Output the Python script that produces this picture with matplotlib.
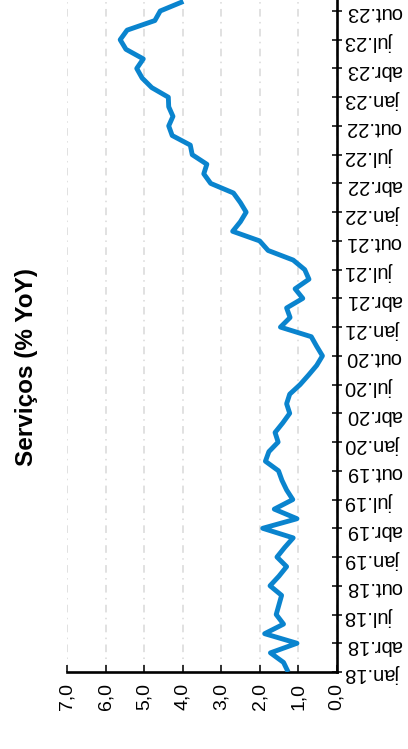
import matplotlib
matplotlib.use("Agg")
import matplotlib.pyplot as plt
import numpy as np

# Serviços (% YoY), mensal de jan.18 a nov.23
servicos = [1.26, 1.38, 1.72, 1.03, 1.87, 1.38, 1.57, 1.50, 1.43, 1.73,
            1.50, 1.30, 1.55, 1.35, 1.13, 1.92, 1.03, 1.62, 1.14, 1.30,
            1.42, 1.51, 1.85, 1.76, 1.52, 1.60, 1.40, 1.22, 1.30, 1.22,
            0.95, 0.73, 0.52, 0.37, 0.52, 0.66, 1.46, 1.21, 1.30, 0.88,
            1.08, 0.72, 0.83, 1.13, 1.78, 2.00, 2.70, 2.50, 2.35, 2.50,
            2.68, 3.27, 3.45, 3.37, 3.75, 3.80, 4.27, 4.36, 4.25, 4.36,
            4.37, 4.80, 5.05, 5.19, 5.02, 5.47, 5.62, 5.44, 4.72, 4.58,
            3.98]
meses = ['jan', 'abr', 'jul', 'out']
anos = ['18', '19', '20', '21', '22', '23']
valores_ticks = [0, 1, 2, 3, 4, 5, 6, 7]

rotulos = [m + '.' + a for a in anos for m in meses]
pos_rotulos = np.arange(len(rotulos)) * 3

plt.rcParams['font.family'] = ['Liberation Sans', 'DejaVu Sans']

fig = plt.figure(figsize=(4.08, 7.49), dpi=100)
# grafico girado: datas no eixo vertical, valores no horizontal invertido
ax = fig.add_axes([67 / 408, 77 / 749, (336.7 - 67) / 408, 672 / 749])

meses_idx = np.arange(len(servicos))
ax.plot(servicos, meses_idx, color='#0A84CE', lw=3.5, solid_joinstyle='round',
        solid_capstyle='butt', zorder=3)

ax.set_xlim(7, 0)
ax.set_ylim(0, 672 / 9.58)

ax.set_xticks(valores_ticks)
ax.set_xticklabels([f'{v:.1f}'.replace('.', ',') for v in valores_ticks],
                   rotation=90, fontsize=14)
ax.set_yticks(pos_rotulos)
ax.set_yticklabels(rotulos, rotation=180, fontsize=14.5)
ax.yaxis.tick_right()

ax.tick_params(axis='x', direction='in', length=5, width=1.1, pad=8)
ax.tick_params(axis='y', direction='inout', length=7, width=1.1, pad=3)

ax.xaxis.grid(True, color='#d9d9d9', lw=1.1, linestyle=(0, (5, 3.5, 1, 3.5)))
ax.set_axisbelow(True)

for s in ['top', 'left']:
    ax.spines[s].set_visible(False)
for s in ['bottom', 'right']:
    ax.spines[s].set_linewidth(1.9)
    ax.spines[s].set_color('black')

fig.text(27 / 408, 1 - 367 / 749, 'Serviços (% YoY)', rotation=90,
         ha='center', va='center', fontsize=17.5, fontweight='bold')

fig.savefig('out.png', dpi=100)
